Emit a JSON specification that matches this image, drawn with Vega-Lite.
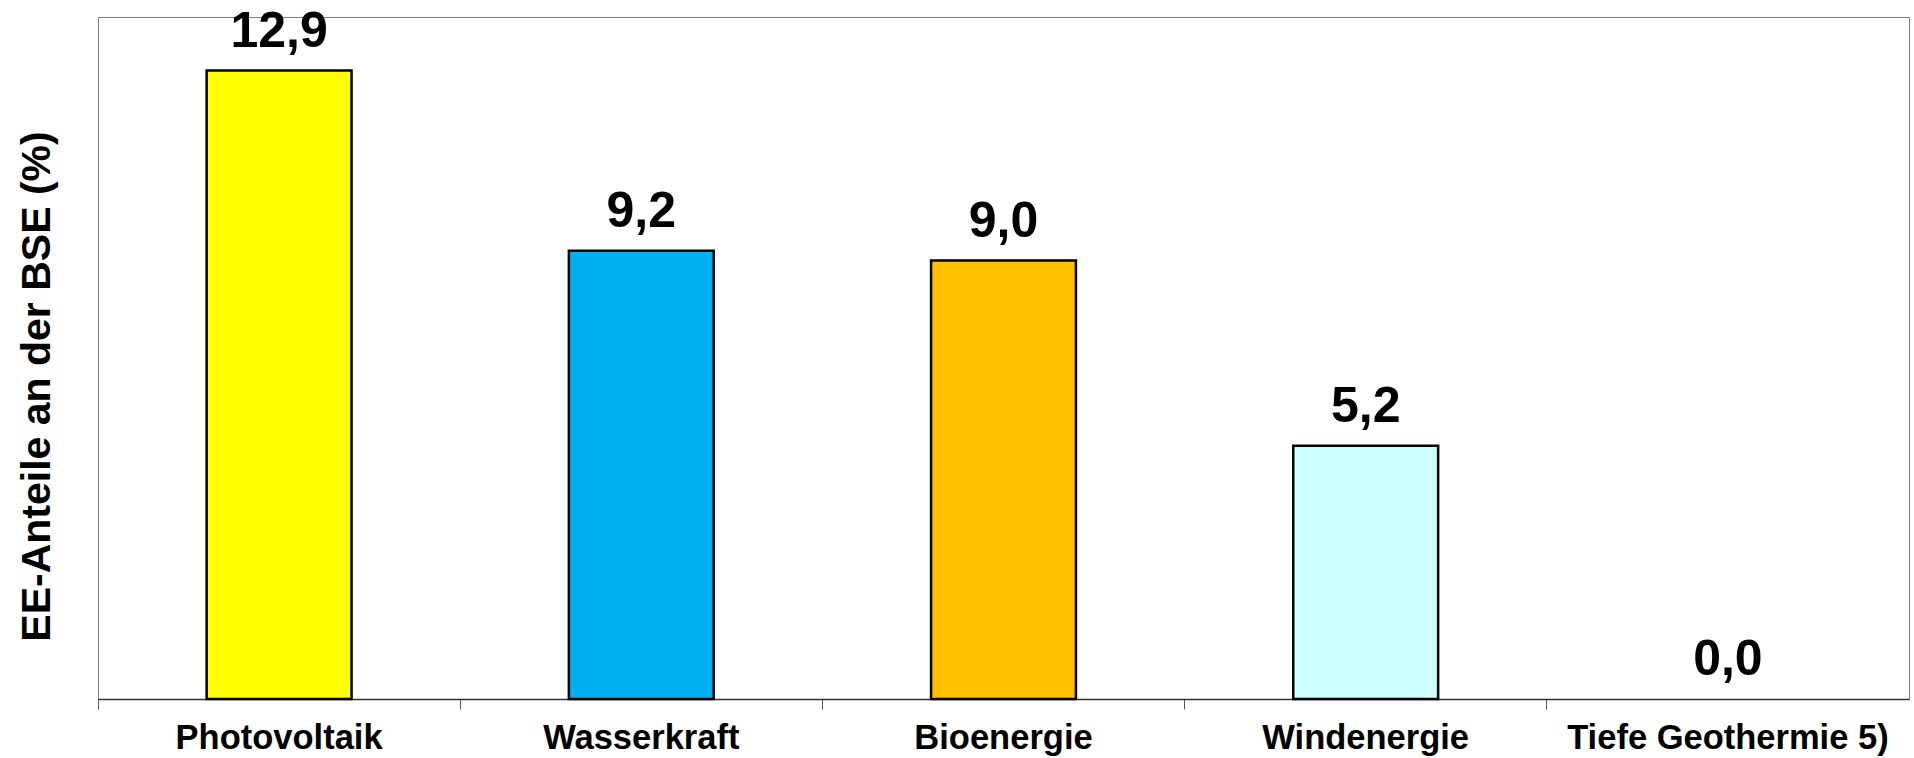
{
  "$schema": "https://vega.github.io/schema/vega-lite/v6.json",
  "autosize": {"type": "none"},
  "padding": {"left": 98, "top": 17, "right": 5, "bottom": 59},
  "width": 1811,
  "height": 682,
  "background": "white",
  "config": {
    "locale": {"number": {"decimal": ",", "thousands": ".", "grouping": [3], "currency": ["", " €"]}},
    "view": {"stroke": "#808080", "strokeWidth": 1},
    "font": "Liberation Sans"
  },
  "data": {
    "values": [
      {"kategorie": "Photovoltaik", "wert": 12.9},
      {"kategorie": "Wasserkraft", "wert": 9.2},
      {"kategorie": "Bioenergie", "wert": 9.0},
      {"kategorie": "Windenergie", "wert": 5.2},
      {"kategorie": "Tiefe Geothermie 5)", "wert": 0.0}
    ]
  },
  "encoding": {
    "x": {
      "field": "kategorie",
      "type": "nominal",
      "sort": null,
      "scale": {"paddingInner": 0, "paddingOuter": 0},
      "axis": {
        "title": null,
        "bandPosition": 0,
        "labelAngle": 0,
        "labelFont": "Liberation Sans",
        "labelFontWeight": "bold",
        "labelFontSize": 34.5,
        "labelColor": "black",
        "labelBaseline": "alphabetic",
        "labelPadding": 39,
        "labelLimit": 0,
        "tickSize": 10,
        "tickColor": "#555555",
        "tickWidth": 1,
        "domainColor": "#333333",
        "domainWidth": 1.5,
        "labelBound": false,
        "labelOverlap": false
      }
    },
    "y": {
      "field": "wert",
      "type": "quantitative",
      "scale": {"domain": [0, 14], "nice": false},
      "axis": {
        "title": "EE-Anteile an der BSE (%)",
        "titleFont": "Liberation Sans",
        "titleFontWeight": "bold",
        "titleFontSize": 41,
        "titleColor": "black",
        "titleAngle": -90,
        "titleBaseline": "alphabetic",
        "titleAlign": "center",
        "titleX": -49,
        "titleY": 369,
        "titleLimit": 0,
        "labels": false,
        "ticks": false,
        "grid": false,
        "domain": false
      }
    }
  },
  "layer": [
    {
      "mark": {"type": "bar", "width": {"band": 0.4}, "stroke": "black", "strokeWidth": 2.5},
      "encoding": {
        "color": {
          "field": "kategorie",
          "type": "nominal",
          "scale": {
            "domain": ["Photovoltaik", "Wasserkraft", "Bioenergie", "Windenergie", "Tiefe Geothermie 5)"],
            "range": ["#FFFF00", "#00B0F0", "#FFC000", "#CCFFFF", "#FFFFFF"]
          },
          "legend": null
        },
        "strokeOpacity": {"condition": {"test": "datum.wert == 0", "value": 0}, "value": 1}
      }
    },
    {
      "mark": {"type": "text", "baseline": "alphabetic", "align": "center", "dy": -24, "font": "Liberation Sans", "fontWeight": "bold", "fontSize": 50, "color": "black"},
      "encoding": {
        "text": {"field": "wert", "type": "quantitative", "format": ".1f"}
      }
    }
  ]
}
